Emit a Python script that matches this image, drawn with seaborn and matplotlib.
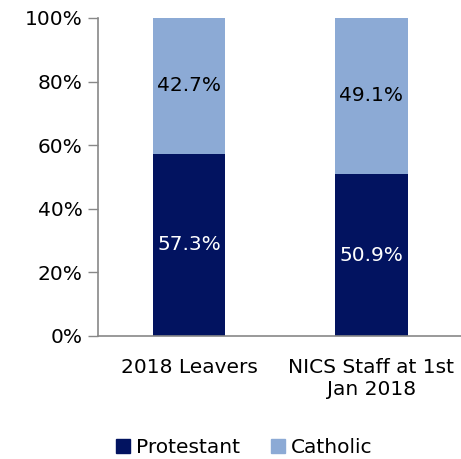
import pandas as pd
import seaborn as sns
import matplotlib.pyplot as plt
from matplotlib.patches import Patch

# dati
categories = ['2018 Leavers', 'NICS Staff at 1st\nJan 2018']
protestant = [57.3, 50.9]
catholic = [42.7, 49.1]

dark = '#021360'
light = '#8CAAD5'

df = pd.DataFrame({'group': categories, 'Protestant': protestant, 'Catholic': catholic})
df['total'] = df['Protestant'] + df['Catholic']

sns.set_style('white')
plt.rcParams['font.family'] = ['DejaVu Sans']
plt.rcParams['text.color'] = 'black'
plt.rcParams['xtick.color'] = 'black'
plt.rcParams['ytick.color'] = 'black'

fig = plt.figure(figsize=(4.61, 4.59), dpi=100)
ax = fig.add_axes([0.2126, 0.268, 0.79, 0.693])

sns.barplot(data=df, x='group', y='total', color=light, width=0.4, saturation=1,
            linewidth=0, ax=ax)
sns.barplot(data=df, x='group', y='Protestant', color=dark, width=0.4, saturation=1,
            linewidth=0, ax=ax)

# etichette dentro le barre
for i, row in df.iterrows():
    ax.text(i, row['Protestant'] / 2, f"{row['Protestant']:.1f}%", ha='center', va='center',
            color='white', fontsize=14.5)
    ax.text(i, row['Protestant'] + row['Catholic'] / 2, f"{row['Catholic']:.1f}%", ha='center',
            va='center', color='black', fontsize=14.5)

ax.set_xlim(-0.5, 1.5)
ax.set_ylim(0, 100)
ax.set_yticks([0, 20, 40, 60, 80, 100])
ax.set_yticklabels([f'{v}%' for v in [0, 20, 40, 60, 80, 100]])
ax.set_xlabel('')
ax.set_ylabel('')

ax.set_xticks([-0.5, 0.5, 1.5], minor=True)
ax.tick_params(axis='x', which='major', length=0, labelsize=14.5, pad=16)
ax.tick_params(axis='x', which='minor', length=6, width=1, color='#888888', direction='out')
ax.tick_params(axis='y', length=7, width=1, color='#888888', direction='out', labelsize=14.5, pad=4)
ax.tick_params(left=True, bottom=True)

sns.despine(ax=ax, top=True, right=True)
for s in ['left', 'bottom']:
    ax.spines[s].set_color('#888888')
    ax.spines[s].set_linewidth(1.2)

handles = [Patch(color=dark, label='Protestant'), Patch(color=light, label='Catholic')]
fig.legend(handles=handles, loc='lower center', bbox_to_anchor=(0.53, -0.035), ncol=2, frameon=False,
           fontsize=14.5, handlelength=0.7, handleheight=0.7, handletextpad=0.3, columnspacing=1.5)

plt.savefig('out.png', dpi=100)
